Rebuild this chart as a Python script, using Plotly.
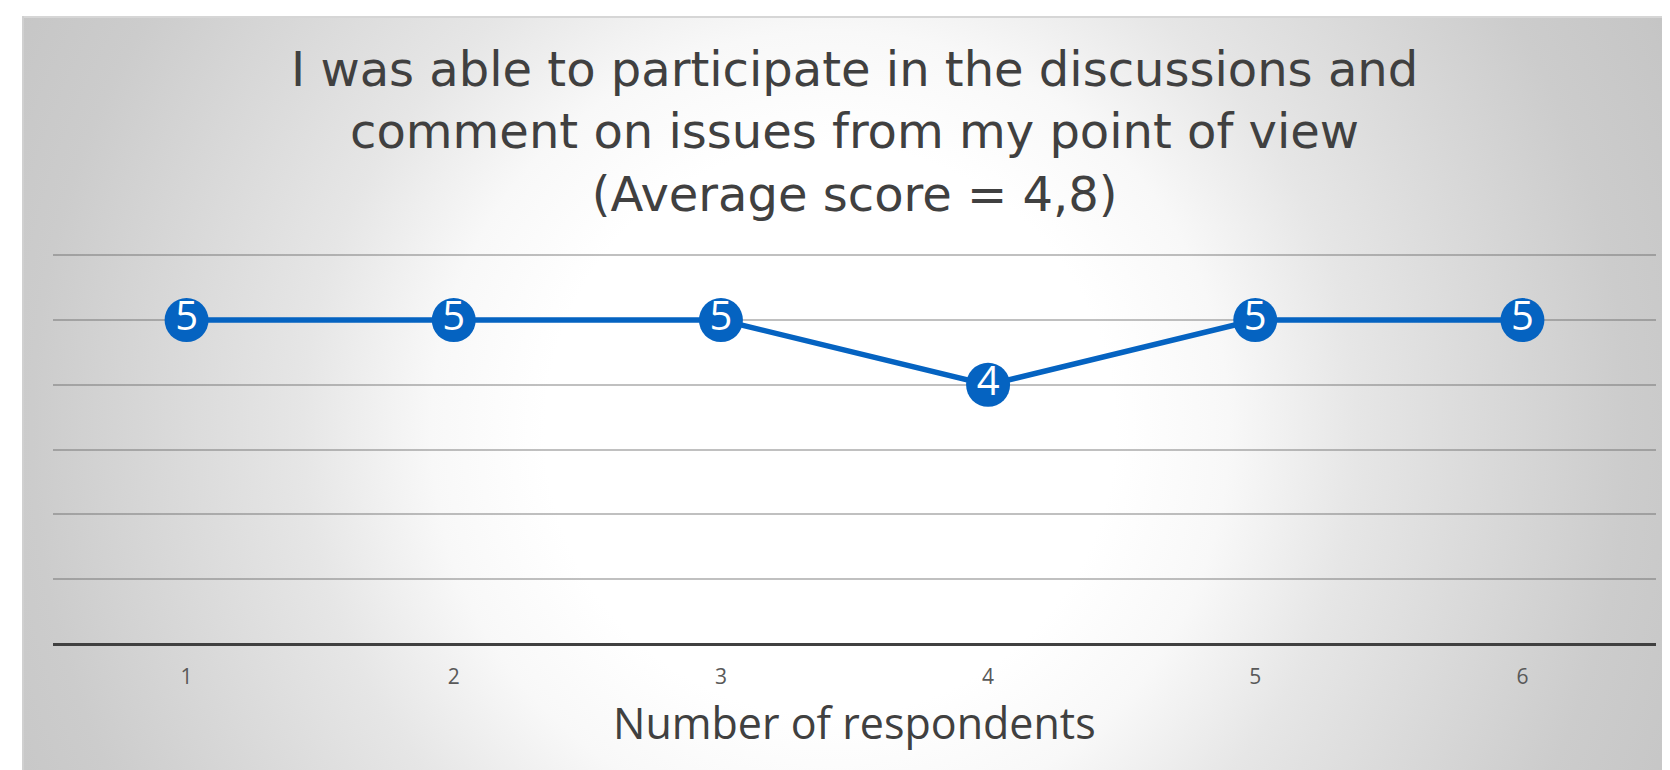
import base64
import plotly.graph_objects as go

# ---- data ----
respondents = ["1", "2", "3", "4", "5", "6"]
scores = [5, 5, 5, 4, 5, 5]
score_labels = ["5", "5", "5", "4", "5", "5"]
title_lines = [
    "I was able to participate in the discussions and",
    "comment on issues from my point of view",
    "(Average score = 4,8)",
]
x_title = "Number of respondents"

# figure geometry (page body has an 8px margin)
W, H = 1662, 762
ML, MR, MT, MB = 45, 14, 246, 126
PW, PH = W - ML - MR, H - MT - MB
FONT = "Open Sans"
TITLE_FONT = "DejaVu Sans"


def py(pix):
    """pixel row (figure coords) -> paper y"""
    return (H - MB - pix) / PH


# radial gradient background panel (SVG)
PX0, PY0, PX1, PY1 = 14, 8, 1662, 762
pw, ph = PX1 - PX0, PY1 - PY0
svg = (
    f'<svg xmlns="http://www.w3.org/2000/svg" width="{pw}" height="{ph}" '
    f'preserveAspectRatio="none" viewBox="0 0 {pw} {ph}">'
    '<defs><radialGradient id="g" gradientUnits="userSpaceOnUse" '
    f'cx="{830 - 22}" cy="{430 - 16}" r="950">'
    '<stop offset="0" stop-color="#ffffff"/>'
    '<stop offset="0.30" stop-color="#ffffff"/>'
    '<stop offset="0.42" stop-color="#f8f8f8"/>'
    '<stop offset="0.555" stop-color="#e6e6e6"/>'
    '<stop offset="0.84" stop-color="#cccccc"/>'
    '<stop offset="0.96" stop-color="#c6c6c6"/>'
    '<stop offset="1" stop-color="#c3c3c3"/>'
    '</radialGradient></defs>'
    f'<rect x="0" y="0" width="{pw}" height="{ph}" fill="url(#g)"/>'
    f'<line x1="0" y1="1" x2="{pw}" y2="1" stroke="#d6d6d6" stroke-width="2"/>'
    f'<line x1="1" y1="0" x2="1" y2="{ph}" stroke="#d0d0d0" stroke-width="2"/>'
    '</svg>'
)
src = "data:image/svg+xml;base64," + base64.b64encode(svg.encode()).decode()

fig = go.Figure()
fig.add_trace(go.Scatter(
    x=respondents, y=scores,
    mode="lines+markers+text",
    line=dict(color="#0563C1", width=5.5),
    marker=dict(size=44, color="#0563C1"),
    text=score_labels,
    textposition="middle center",
    textfont=dict(color="white", size=40, family=FONT),
    hoverinfo="skip",
    cliponaxis=False,
))

annotations = [
    dict(
        text="<br>".join(title_lines), xref="paper", yref="paper",
        x=0.5, y=py(123),
        xanchor="center", yanchor="middle", align="center", showarrow=False,
        font=dict(family=TITLE_FONT, size=48, color="#404040"),
    ),
    dict(
        text=x_title, xref="paper", yref="paper", x=0.5, y=py(714),
        xanchor="center", yanchor="middle", showarrow=False,
        font=dict(family=FONT, size=43, color="#404040"),
    ),
]

fig.update_layout(
    width=W, height=H,
    margin=dict(l=ML, r=MR, t=MT, b=MB),
    paper_bgcolor="white",
    plot_bgcolor="rgba(0,0,0,0)",
    showlegend=False,
    annotations=annotations,
    images=[dict(
        source=src, xref="paper", yref="paper",
        x=(PX0 - ML) / PW, y=py(PY0),
        sizex=pw / PW, sizey=ph / PH,
        xanchor="left", yanchor="top", sizing="stretch", layer="below",
    )],
    xaxis=dict(
        type="category",
        range=[-0.5, 5.5],
        showgrid=False,
        showline=False,
        zeroline=False,
        ticks="outside",
        ticklen=14,
        tickcolor="rgba(0,0,0,0)",
        tickfont=dict(family=FONT, size=21, color="#595959"),
    ),
    yaxis=dict(
        range=[0, 6.02],
        dtick=1,
        showgrid=True,
        gridcolor="rgba(90,90,90,0.38)",
        gridwidth=1.5,
        showticklabels=False,
        zeroline=True,
        zerolinecolor="#404040",
        zerolinewidth=3,
        showline=False,
        ticks="",
    ),
)

fig.write_html("out.html")
